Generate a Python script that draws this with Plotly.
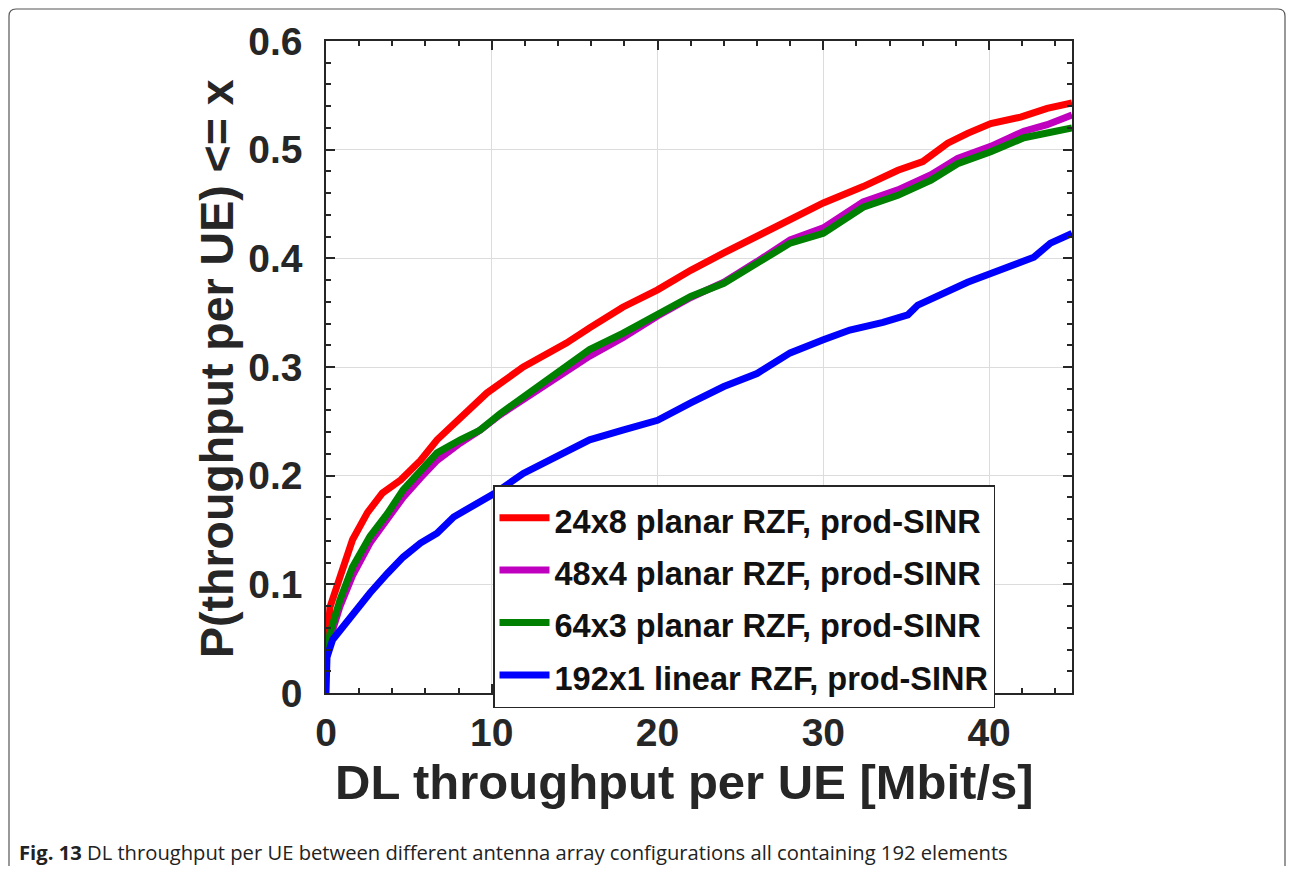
import plotly.graph_objects as go

# ---- data ----
series_names = [
    "24x8 planar RZF, prod-SINR",
    "48x4 planar RZF, prod-SINR",
    "64x3 planar RZF, prod-SINR",
    "192x1 linear RZF, prod-SINR",
]
series_colors = ["#ff0000", "#bf00bf", "#008000", "#0000ff"]

red_x = [0, 0.1, 0.24, 0.85, 1.6, 2.5, 3.4, 4.5, 5.7, 6.7, 8.1, 9.7, 11.9, 14.5, 15.9, 17.9,
         20.0, 22.0, 24.0, 26.0, 28.0, 30.0, 32.4, 34.5, 36.0, 37.5, 38.7, 40.1, 41.9, 43.5, 45]
red_y = [0.03, 0.05, 0.079, 0.107, 0.141, 0.166, 0.184, 0.196, 0.214, 0.233, 0.254, 0.276, 0.300,
         0.322, 0.336, 0.355, 0.371, 0.389, 0.405, 0.420, 0.435, 0.451, 0.466, 0.481, 0.489, 0.506,
         0.515, 0.524, 0.530, 0.538, 0.543]

mag_x = [0, 0.1, 0.24, 0.85, 1.6, 2.65, 3.7, 4.65, 5.7, 6.7, 8.1, 9.3, 10.5, 11.9, 13.9, 15.9,
         17.9, 20.0, 22.0, 24.0, 26.0, 28.0, 30.0, 32.4, 34.5, 36.5, 38.1, 40.1, 42.1, 43.5, 45]
mag_y = [0.03, 0.04, 0.05, 0.08, 0.108, 0.138, 0.160, 0.180, 0.198, 0.214, 0.230, 0.242, 0.256,
         0.270, 0.290, 0.310, 0.327, 0.347, 0.364, 0.378, 0.397, 0.417, 0.428, 0.452, 0.463, 0.477,
         0.492, 0.503, 0.517, 0.523, 0.532]

grn_x = [0, 0.1, 0.24, 0.85, 1.6, 2.65, 3.7, 4.65, 5.7, 6.7, 8.1, 9.3, 10.5, 11.9, 13.9, 15.9,
         17.9, 20.0, 22.0, 24.0, 26.0, 28.0, 30.0, 32.4, 34.5, 36.5, 38.1, 40.1, 42.1, 43.5, 45]
grn_y = [0.03, 0.045, 0.055, 0.086, 0.116, 0.144, 0.165, 0.187, 0.205, 0.221, 0.233, 0.242, 0.257,
         0.272, 0.294, 0.316, 0.331, 0.349, 0.365, 0.377, 0.395, 0.414, 0.423, 0.447, 0.458, 0.472,
         0.487, 0.498, 0.511, 0.515, 0.520]

blu_x = [0, 0.02, 0.06, 0.4, 0.85, 1.6, 2.65, 3.7, 4.65, 5.7, 6.7, 7.7, 8.7, 9.7, 10.2, 11.9, 13.9,
         15.9, 17.9, 20.0, 22.0, 24.0, 26.0, 28.0, 30.0, 31.6, 33.6, 35.1, 35.7, 37.7, 38.7, 40.1,
         42.7, 43.7, 45]
blu_y = [0, 0.015, 0.033, 0.049, 0.058, 0.073, 0.092, 0.110, 0.125, 0.138, 0.147, 0.162, 0.171,
         0.180, 0.184, 0.202, 0.217, 0.233, 0.242, 0.251, 0.267, 0.282, 0.294, 0.313, 0.325, 0.334,
         0.341, 0.348, 0.357, 0.371, 0.378, 0.386, 0.401, 0.414, 0.423]

x_tickvals = [0, 10, 20, 30, 40]
y_tickvals = [0, 0.1, 0.2, 0.3, 0.4, 0.5, 0.6]
y_ticktext = ["0", "0.1", "0.2", "0.3", "0.4", "0.5", "0.6"]

x_title = "DL throughput per UE [Mbit/s]"
y_title = "P(throughput per UE) &lt;= x"
caption_bold = "Fig. 13"
caption_text = " DL throughput per UE between different antenna array configurations all containing 192 elements"

# ---- figure ----
# The page body has an 8px margin on every side, so the figure is drawn 16px
# smaller than the window; placements below are given in page pixels.
OFF = 8
W, H = 1294 - 2 * OFF, 874 - 2 * OFF
L, T = 326 - OFF, 41 - OFF
pw, ph = 746, 652
R, B = W - L - pw, H - T - ph


def px_x(p):
    return (p - OFF - L) / pw


def px_y(p):
    return (H - B - (p - OFF)) / ph


fig = go.Figure()
all_x = [red_x, mag_x, grn_x, blu_x]
all_y = [red_y, mag_y, grn_y, blu_y]
for name, col, xs, ys in zip(series_names, series_colors, all_x, all_y):
    fig.add_trace(go.Scatter(
        x=xs, y=ys, mode="lines", name=f"<span style='font-size:32.5px'>{name}</span>",
        line=dict(color=col, width=7),
    ))

axis_font = dict(family="Liberation Sans, Arial", size=39, color="#262626", weight="bold")
common = dict(
    ticks="inside", ticklen=9, tickwidth=1.5, tickcolor="#262626",
    showline=True, linecolor="#262626", linewidth=1.5, mirror="ticks",
    showgrid=True, gridcolor="#dcdcdc", gridwidth=1.2, zeroline=False,
    tickfont=axis_font,
)
fig.update_xaxes(
    range=[0, 45], tickvals=x_tickvals, ticklabelstandoff=4,
    minor=dict(dtick=2, tick0=0, ticks="inside", ticklen=5, tickcolor="#262626", showgrid=False),
    **common,
)
fig.update_yaxes(
    range=[0, 0.6], tickvals=y_tickvals, ticktext=y_ticktext, ticklabelstandoff=14,
    minor=dict(dtick=0.02, tick0=0, ticks="inside", ticklen=5, tickcolor="#262626", showgrid=False),
    **common,
)

fig.add_annotation(text=x_title, xref="paper", yref="paper", x=px_x(684), y=px_y(782),
                   xanchor="center", yanchor="middle", showarrow=False,
                   font=dict(family="Liberation Sans, Arial", size=49, color="#262626", weight="bold"))
fig.add_annotation(text=y_title, xref="paper", yref="paper", x=px_x(217), y=px_y(369),
                   xanchor="center", yanchor="middle", showarrow=False, textangle=-90,
                   font=dict(family="Liberation Sans, Arial", size=46.5, color="#262626", weight="bold"))
fig.add_annotation(text=f"<b>{caption_bold}</b>{caption_text}", xref="paper", yref="paper",
                   x=px_x(17), y=px_y(852), xanchor="left", yanchor="middle", showarrow=False,
                   font=dict(family="Open Sans", size=20.2, color="#222222"))

# outer frame with rounded top corners
fx0, fx1 = px_x(9), px_x(OFF + W - 1)
fy_top, fy_bot = px_y(OFF + 1), px_y(900)
rx, ry = 7 / pw, 7 / ph
frame_path = (
    f"M {fx0},{fy_bot} L {fx0},{fy_top - ry} Q {fx0},{fy_top} {fx0 + rx},{fy_top} "
    f"L {fx1 - rx},{fy_top} Q {fx1},{fy_top} {fx1},{fy_top - ry} L {fx1},{fy_bot}"
)
fig.add_shape(type="path", xref="paper", yref="paper", path=frame_path,
              line=dict(color="#555555", width=1.2), layer="below")

fig.update_layout(
    width=W, height=H,
    margin=dict(l=L, r=R, t=T, b=B, autoexpand=False),
    paper_bgcolor="white", plot_bgcolor="white",
    showlegend=True,
    legend=dict(
        x=px_x(493), y=px_y(485), xanchor="left", yanchor="top",
        bgcolor="white", bordercolor="#262626", borderwidth=1.5,
        font=dict(family="Liberation Sans, Arial", size=38, color="#111111", weight="bold"),
        itemwidth=50,
    ),
)

fig.write_html("out.html")
